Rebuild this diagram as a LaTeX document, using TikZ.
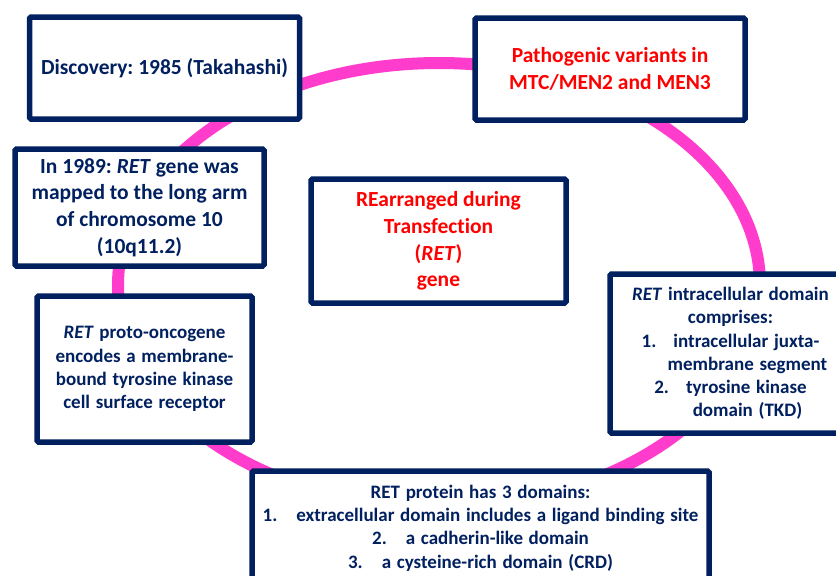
\documentclass[tikz,border=0pt]{standalone}
\usepackage{fontspec}
\setmainfont{Carlito}[Ligatures=NoCommon]
\usepackage{tikz}
\definecolor{boxnavy}{RGB}{0,32,96}
\definecolor{ringpink}{RGB}{255,60,204}
\definecolor{genered}{RGB}{255,0,0}
\newcommand{\RET}{\textit{RET}}
\frenchspacing

\begin{document}
\begin{tikzpicture}[x=1pt, y=-1pt,
  infobox/.style={draw=boxnavy, line width=5.5pt, fill=white, rounded corners=1.5pt,
    align=center, inner sep=0pt, text=boxnavy,
    font={\bfseries\fontsize{19}{23.3}\selectfont\spaceskip=0.3em plus 0.1em}},
  bigtext/.style={font={\bfseries\fontsize{21.5}{26.7}\selectfont}}]

  \useasboundingbox (0,0) rectangle (836,576);
  \clip (0,0) rectangle (836,576);

  % ---------- Pink ring behind the boxes ----------
  \draw[ringpink, line width=12pt] (439,285) ellipse [x radius=321pt, y radius=222pt];

  % ---------- Top row ----------
  \node[infobox, bigtext, minimum width=270pt, minimum height=102pt] (disc) at (164.5,68)
    {Discovery: 1985 (Takahashi)};
  \node[infobox, bigtext, text=genered, minimum width=270pt, minimum height=102pt] (path) at (610,69)
    {Pathogenic variants in\\MTC/MEN2 and MEN3};

  % ---------- Left side ----------
  \node[infobox, bigtext, minimum width=249pt, minimum height=117pt] (map) at (139.5,207.5)
    {In 1989: \RET{} gene was\\mapped to the long arm\\of chromosome 10\\(10q11.2)};
  \node[infobox, minimum width=215pt, minimum height=146pt] (onco) at (144.5,369)
    {\RET{} proto-oncogene\\encodes a membrane-\\bound tyrosine kinase\\cell surface receptor};

  % ---------- Centre ----------
  \node[infobox, bigtext, text=genered, minimum width=255pt, minimum height=124pt] (gene) at (438.5,241)
    {REarranged during\\Transfection\\(\RET)\\gene};

  % ---------- Right side (cut at the page edge) ----------
  \node[infobox, minimum width=241pt, minimum height=159pt] (intra) at (730.5,353.5)
    {\RET{} intracellular domain\\comprises:\\1.\hspace{0.9em}intracellular juxta-\\
     \hspace*{34pt}membrane segment\\2.\hspace{0.9em}tyrosine kinase\\
     \hspace*{34pt}domain (TKD)};

  % ---------- Bottom (cut at the page edge) ----------
  \node[infobox, minimum width=457pt, minimum height=114pt] (prot) at (480.5,528)
    {RET protein has 3 domains:\\
     1.\hspace{1em}extracellular domain includes a ligand binding site\\
     2.\hspace{1em}a cadherin-like domain\\
     3.\hspace{1em}a cysteine-rich domain (CRD)};

\end{tikzpicture}
\end{document}
